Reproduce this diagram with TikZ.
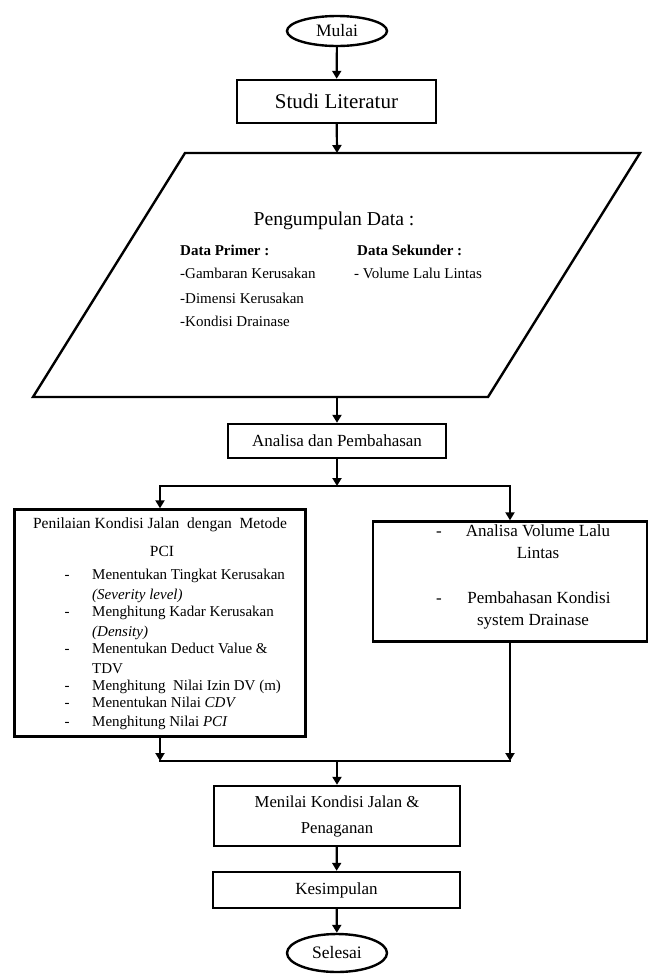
\documentclass[tikz,border=0pt]{standalone}
\usepackage{fontspec}
\setmainfont{Liberation Serif}
\usetikzlibrary{arrows.meta,shapes.geometric}

\begin{document}
\begin{tikzpicture}[x=1pt,y=-1pt,
  box/.style={draw,line width=2.4pt,inner sep=0pt,align=center},
  oval/.style={box,ellipse,minimum width=100pt,font=\fontsize{17.5}{20}\selectfont},
  arr/.style={line width=2.2pt,-{Triangle[length=8pt,width=9pt]}},
  teks/.style={inner sep=0pt,text height=0.8em,text depth=0.2em,font=\fontsize{15}{18}\selectfont},
  besar/.style={teks,font=\fontsize{17}{20}\selectfont}]
  \useasboundingbox (0,0) rectangle (649,975);

  \node[oval,minimum height=30pt] (mulai) at (337,31) {Mulai};
  \node[box,minimum width=199pt,minimum height=43pt,font=\fontsize{21}{24}\selectfont] (studi) at (336.5,101.5) {Studi Literatur};

  \draw[line width=2.4pt,line join=miter] (185,153) -- (640,153) -- (488,397) -- (33,397) -- cycle;
  \coordinate (datatop) at (337,153);
  \coordinate (databot) at (337,397);
  \node[teks,font=\fontsize{19.7}{22}\selectfont] (pengumpulan) at (334,222) {Pengumpulan Data :};
  \node[teks,anchor=west,font=\fontsize{15}{18}\selectfont\bfseries] (primer) at (180,252) {Data Primer :};
  \node[teks,anchor=west,font=\fontsize{15}{18}\selectfont\bfseries] (sekunder) at (357,252) {Data Sekunder :};
  \node[teks,anchor=west] (gambaran) at (180,275) {-Gambaran Kerusakan};
  \node[teks,anchor=west] (volume) at (354,275) {- Volume Lalu Lintas};
  \node[teks,anchor=west] (dimensi) at (180,300) {-Dimensi Kerusakan};
  \node[teks,anchor=west] (drainase) at (180,323) {-Kondisi Drainase};

  \node[box,minimum width=218pt,minimum height=34pt,font=\fontsize{17}{20}\selectfont] (analisa) at (337,441) {Analisa dan Pembahasan};

  \node[box,minimum width=291pt,minimum height=227pt] (kiri) at (160,623) {};
  \node[box,minimum width=274pt,minimum height=120pt] (kanan) at (510,581.5) {};

  \node[teks,font=\fontsize{15.5}{18}\selectfont] (judul) at (160,525) {Penilaian Kondisi Jalan\ \ dengan\ \ Metode};
  \node[teks,font=\fontsize{15.5}{18}\selectfont] (pci) at (162,553) {PCI};
  \foreach \y in {576,613,650,687,704,723}
    \node[teks] (tanda\y) at (67,\y) {-};
  \foreach \y/\t [count=\i] in {576/{Menentukan Tingkat Kerusakan},
      596/{\textit{(Severity level)}},
      613/{Menghitung Kadar Kerusakan},
      633/{\textit{(Density)}},
      650/{Menentukan Deduct Value \&},
      670/{TDV},
      687/{Menghitung\ \ Nilai Izin DV (m)},
      704/{Menentukan Nilai \textit{CDV}},
      723/{Menghitung Nilai \textit{PCI}}}
    \node[teks,anchor=west] (baris\i) at (92,\y) {\t};

  \node[besar] (tandaA) at (439,533) {-};
  \node[besar] (lalulintas) at (538,533) {Analisa Volume Lalu};
  \node[besar] (lintas) at (538,555) {Lintas};
  \node[besar] (tandaB) at (439,600) {-};
  \node[besar] (kondisi) at (539,600) {Pembahasan Kondisi};
  \node[besar] (sistem) at (533,622) {system Drainase};

  \node[box,minimum width=246pt,minimum height=60pt,font=\fontsize{16.7}{26}\selectfont] (menilai) at (337,816) {Menilai Kondisi Jalan \&\\Penaganan};
  \node[box,minimum width=247pt,minimum height=36pt,font=\fontsize{17}{20}\selectfont] (kesimpulan) at (336.5,890) {Kesimpulan};
  \node[oval,minimum height=38pt] (selesai) at (337,953) {Selesai};

  \coordinate (cabang) at (337,486);
  \coordinate (gabung) at (337,761);

  \draw[arr] (mulai) -- (studi);
  \draw[arr] (studi) -- (datatop);
  \draw[arr] (databot) -- (analisa);
  \draw[arr] (analisa) -- (cabang);
  \draw[arr] (cabang) -| (kiri.north);
  \draw[arr] (cabang) -| (kanan.north);
  \draw[arr] (kiri.south) -- (kiri.south |- gabung);
  \draw[arr] (kanan.south) -- (kanan.south |- gabung);
  \draw[line width=2.2pt,line cap=rect] (kiri.south |- gabung) -- (kanan.south |- gabung);
  \draw[arr] (gabung) -- (menilai);
  \draw[arr] (menilai) -- (kesimpulan);
  \draw[arr] (kesimpulan) -- (selesai);
\end{tikzpicture}
\end{document}
